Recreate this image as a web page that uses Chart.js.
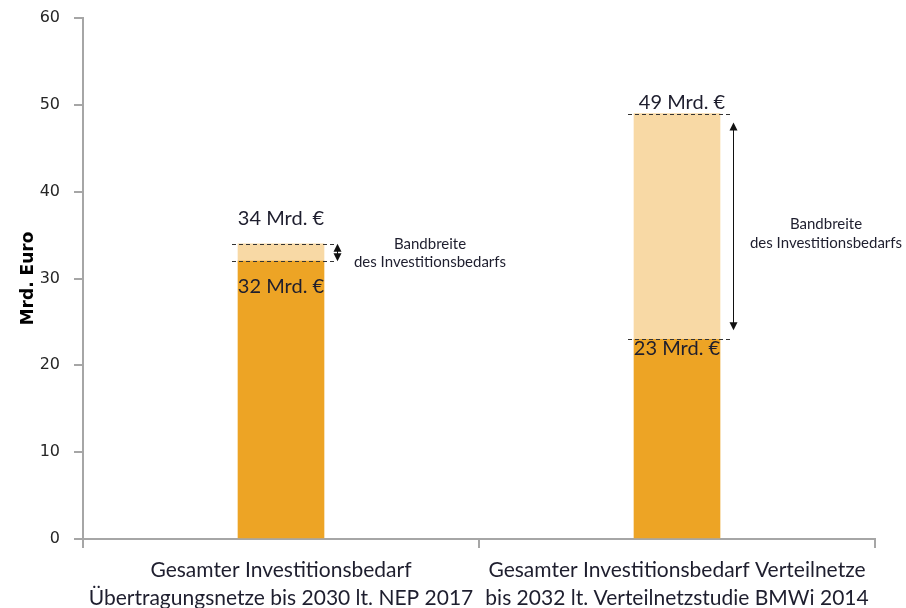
<!DOCTYPE html>
<html>
<head>
<meta charset="utf-8">
<script src="https://cdn.jsdelivr.net/npm/chart.js@4"></script>
<style>
  html, body { margin: 0; padding: 0; background: #fff; }
  #wrap { width: 906px; height: 608px; }
</style>
</head>
<body>
<div id="wrap"><canvas id="investChart"></canvas></div>
<script>
// ---------- DATA ----------
const categories = [
    ["Gesamter Investitionsbedarf", "Übertragungsnetze bis 2030 lt. NEP 2017"],
    ["Gesamter Investitionsbedarf Verteilnetze", "bis 2032 lt. Verteilnetzstudie BMWi 2014"]
];
const lowerValues = [32, 23];   // untere Grenze, Mrd. Euro
const upperValues = [34, 49];   // obere Grenze, Mrd. Euro
const yTicks = [0, 10, 20, 30, 40, 50, 60];
const rangeText = ["Bandbreite", "des Investitionsbedarfs"];

// stacked part = Bandbreite between lower and upper
const rangeValues = upperValues.map((v, i) => v - lowerValues[i]);

const calibri = "Lato, 'Open Sans', sans-serif";

// draws value labels, dashed lines, arrows and the range text
const rangePlugin = {
    id: "rangePlugin",
    afterDatasetsDraw(chart) {
        const ctx = chart.ctx;
        const y = chart.scales.y;
        const meta = chart.getDatasetMeta(0);
        const textOffsets = [[-8, 10], [-2, 17]];

        meta.data.forEach((bar, i) => {
            const left = bar.x - bar.width / 2;
            const right = bar.x + bar.width / 2;
            const yLow = y.getPixelForValue(lowerValues[i]);
            const yHigh = y.getPixelForValue(upperValues[i]);

            ctx.save();
            // dashed lines
            ctx.strokeStyle = "#333";
            ctx.lineWidth = 1;
            ctx.setLineDash([4, 3]);
            [yLow, yHigh].forEach(py => {
                ctx.beginPath();
                ctx.moveTo(left - 6, Math.round(py) + 0.5);
                ctx.lineTo(right + 10, Math.round(py) + 0.5);
                ctx.stroke();
            });
            ctx.setLineDash([]);

            // double arrow
            const ax = right + 13 + 0.5;
            const inset = (yLow - yHigh) > 40 ? 9 : 0;
            const a1 = yHigh + inset, a2 = yLow - inset;
            ctx.strokeStyle = "#111";
            ctx.fillStyle = "#111";
            ctx.beginPath();
            ctx.moveTo(ax, a1 + 4);
            ctx.lineTo(ax, a2 - 4);
            ctx.stroke();
            ctx.beginPath();
            ctx.moveTo(ax, a1); ctx.lineTo(ax - 4, a1 + 8); ctx.lineTo(ax + 4, a1 + 8); ctx.closePath();
            ctx.fill();
            ctx.beginPath();
            ctx.moveTo(ax, a2); ctx.lineTo(ax - 4, a2 - 8); ctx.lineTo(ax + 4, a2 - 8); ctx.closePath();
            ctx.fill();

            // value labels
            ctx.fillStyle = "#1e1e2e";
            ctx.font = "20px " + calibri;
            ctx.textAlign = "center";
            ctx.textBaseline = "middle";
            const topGap = i === 0 ? 25 : 11;
            ctx.fillText(upperValues[i] + " Mrd. €", bar.x + (i === 0 ? 0 : 5), yHigh - topGap);
            ctx.fillText(lowerValues[i] + " Mrd. €", bar.x, yLow + (i === 0 ? 25 : 9));

            // range text
            const mid = (yLow + yHigh) / 2;
            const tx = right + 106;
            ctx.font = "15px " + calibri;
            ctx.fillStyle = "#1e1e2e";
            ctx.fillText(rangeText[0], tx, mid + textOffsets[i][0]);
            ctx.fillText(rangeText[1], tx, mid + textOffsets[i][1]);
            ctx.restore();
        });
    }
};

const ctxInvest = document.getElementById("investChart").getContext("2d");

new Chart(ctxInvest, {
    type: "bar",
    data: {
        labels: categories,
        datasets: [{
            label: "Untergrenze",
            data: lowerValues,
            backgroundColor: "#EDA425",
            barThickness: 86
        }, {
            label: "Bandbreite",
            data: rangeValues,
            backgroundColor: "#F8D9A5",
            barThickness: 86
        }]
    },
    options: {
        responsive: true,
        maintainAspectRatio: false,
        animation: false,
        layout: { padding: { top: 18, right: 31, left: 0, bottom: 0 } },
        plugins: {
            legend: { display: false },
            tooltip: { enabled: false }
        },
        scales: {
            x: {
                stacked: true,
                afterFit(scale) { scale.height = 69; },
                grid: {
                    drawOnChartArea: false,
                    tickLength: 9,
                    color: "#a6a6a6",
                    lineWidth: 2
                },
                border: { color: "#a6a6a6", width: 2 },
                ticks: {
                    padding: 9,
                    color: "#1e1e2e",
                    font: { family: calibri, size: 21, lineHeight: 1.3 },
                    maxRotation: 0,
                    autoSkip: false
                }
            },
            y: {
                stacked: true,
                min: 0,
                max: 60,
                afterFit(scale) {
                    scale.width = 83;
                    // let layout.padding decide the top edge
                    scale.paddingTop = 0;
                    scale.paddingBottom = 0;
                },
                afterBuildTicks(scale) {
                    scale.ticks = yTicks.map(v => ({ value: v }));
                },
                grid: {
                    drawOnChartArea: false,
                    tickLength: 9,
                    color: "#a6a6a6",
                    lineWidth: 2
                },
                border: { color: "#a6a6a6", width: 2 },
                ticks: {
                    padding: 14,
                    color: "#262626",
                    font: { family: "'DejaVu Sans', Verdana, sans-serif", size: 16 }
                },
                title: {
                    display: true,
                    text: "Mrd. Euro",
                    color: "#000",
                    font: { family: "'DejaVu Sans', Verdana, sans-serif", size: 17, weight: "bold", lineHeight: 1.2 },
                    padding: { top: 18, bottom: 0 }
                }
            }
        }
    },
    plugins: [rangePlugin]
});
</script>
</body>
</html>
